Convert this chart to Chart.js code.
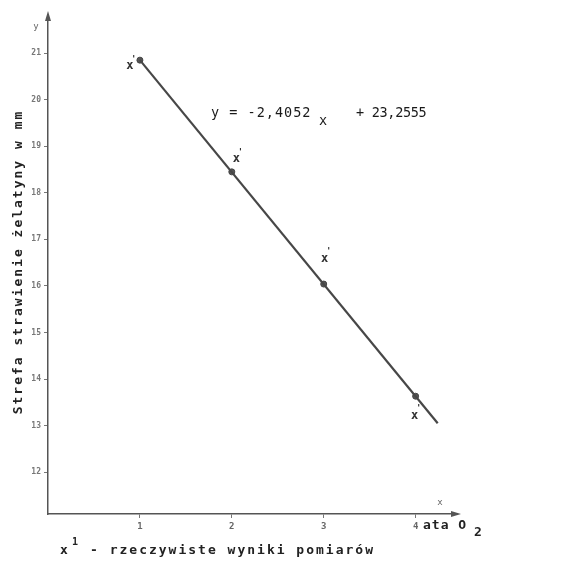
<!DOCTYPE html>
<html>
<head>
<meta charset="utf-8">
<script src="https://cdn.jsdelivr.net/npm/chart.js@4.4.1/dist/chart.umd.min.js"></script>
<style>
  html, body { margin: 0; padding: 0; background: #ffffff; }
  #wrap { width: 566px; height: 562px; }
</style>
</head>
<body>
<div id="wrap"><canvas id="wykres"></canvas></div>
<script>
// ticks
var xTicks = [1, 2, 3, 4];
var yTicks = [12, 13, 14, 15, 16, 17, 18, 19, 20, 21];

// regression line y = -2,4052x + 23,2555 (end points)
var liniaX = [1, 4.24];
var liniaY = [20.85, 13.05];

// dots on the line
var punktyX = [1, 2, 3, 4];
var punktyY = [20.85, 18.45, 16.04, 13.63];

// actual measurements, marked x'
var pomiaryX = [0.89, 2.05, 3.01, 3.99];
var pomiaryY = [20.74, 18.74, 16.6, 13.23];

var fontMono = "'DejaVu Sans Mono', 'Liberation Mono', monospace";

function pary(xs, ys) {
  var out = [];
  for (var i = 0; i < xs.length; i++) {
    out.push({ x: xs[i], y: ys[i] });
  }
  return out;
}

var opisy = {
  id: "opisy",
  afterDatasetsDraw: function (chart) {
    var ctx = chart.ctx;

    // x' markers at the measured points
    var meta = chart.getDatasetMeta(2);
    ctx.save();
    ctx.fillStyle = "#333";
    ctx.textAlign = "center";
    ctx.textBaseline = "middle";
    meta.data.forEach(function (el) {
      ctx.font = "bold 12px " + fontMono;
      ctx.fillText("x", el.x, el.y + 1);
      ctx.font = "bold 9px " + fontMono;
      ctx.fillText("'", el.x + 4, el.y - 6);
    });
    ctx.restore();
  },
  afterDraw: function (chart) {
    var ctx = chart.ctx;
    var area = chart.chartArea;
    ctx.save();

    // arrows on the axes
    ctx.fillStyle = "#555";
    ctx.beginPath();
    ctx.moveTo(area.right + 4, area.bottom);
    ctx.lineTo(area.right - 6, area.bottom - 3);
    ctx.lineTo(area.right - 6, area.bottom + 3);
    ctx.closePath();
    ctx.fill();
    ctx.beginPath();
    ctx.moveTo(area.left, area.top - 4);
    ctx.lineTo(area.left - 3, area.top + 6);
    ctx.lineTo(area.left + 3, area.top + 6);
    ctx.closePath();
    ctx.fill();

    ctx.fillStyle = "#666";
    ctx.font = "9px " + fontMono;
    ctx.textAlign = "center";
    ctx.textBaseline = "middle";
    ctx.fillText("x", area.right - 17, area.bottom - 11);
    ctx.fillText("y", area.left - 12, area.top + 12);

    // y axis title
    ctx.fillStyle = "#222";
    ctx.font = "bold 13px " + fontMono;
    ctx.letterSpacing = "2px";
    ctx.save();
    ctx.translate(19, 262);
    ctx.rotate(-Math.PI / 2);
    ctx.fillText("Strefa strawienie żelatyny w mm", 0, 0);
    ctx.restore();

    // equation
    ctx.fillStyle = "#1a1a1a";
    ctx.textAlign = "left";
    ctx.textBaseline = "alphabetic";
    ctx.font = "13.5px " + fontMono;
    ctx.letterSpacing = "1px";
    ctx.fillText("y = -2,4052", 211, 117);
    ctx.fillText("x", 319, 125);
    ctx.letterSpacing = "-0.3px";
    ctx.fillText("+ 23,2555", 356, 117);

    // unit at the x axis
    ctx.fillStyle = "#222";
    ctx.font = "bold 13px " + fontMono;
    ctx.letterSpacing = "1px";
    ctx.fillText("ata O", 423, 529);
    ctx.fillText("2", 474, 536);

    // note at the bottom
    ctx.letterSpacing = "2px";
    ctx.fillText("x", 60, 554);
    ctx.font = "bold 10px " + fontMono;
    ctx.fillText("1", 72, 545);
    ctx.font = "bold 13px " + fontMono;
    ctx.fillText("- rzeczywiste wyniki pomiarów", 90, 554);

    ctx.restore();
  }
};

var config = {
  type: "scatter",
  data: {
    datasets: [
      {
        label: "linia",
        data: pary(liniaX, liniaY),
        showLine: true,
        borderColor: "#474747",
        borderWidth: 2.2,
        pointRadius: 0
      },
      {
        label: "punkty",
        data: pary(punktyX, punktyY),
        backgroundColor: "#555",
        borderColor: "#444",
        pointRadius: 3
      },
      {
        label: "pomiary",
        data: pary(pomiaryX, pomiaryY),
        pointRadius: 0
      }
    ]
  },
  options: {
    responsive: true,
    maintainAspectRatio: false,
    animation: false,
    layout: {
      padding: { left: 0, top: 15, right: 109, bottom: 0 }
    },
    plugins: {
      legend: { display: false },
      tooltip: { enabled: false }
    },
    scales: {
      x: {
        type: "linear",
        min: 0,
        max: 4.45,
        afterBuildTicks: function (scale) {
          scale.ticks = xTicks.map(function (v) { return { value: v }; });
        },
        afterFit: function (scale) {
          scale.height = 48;
        },
        grid: {
          drawOnChartArea: false,
          drawTicks: true,
          tickLength: 4,
          color: "#777"
        },
        border: { display: true, color: "#555", width: 1.5 },
        ticks: {
          color: "#666",
          padding: 3,
          font: { family: fontMono, size: 9, weight: "bold" }
        }
      },
      y: {
        type: "linear",
        min: 11.1,
        max: 21.82,
        afterBuildTicks: function (scale) {
          scale.ticks = yTicks.map(function (v) { return { value: v }; });
        },
        afterFit: function (scale) {
          scale.width = 48;
        },
        grid: {
          drawOnChartArea: false,
          drawTicks: true,
          tickLength: 4,
          color: "#777"
        },
        border: { display: true, color: "#555", width: 1.5 },
        ticks: {
          color: "#777",
          padding: 3,
          font: { family: fontMono, size: 8, weight: "bold" }
        }
      }
    }
  },
  plugins: [opisy]
};

var wykres = new Chart(document.getElementById("wykres"), config);
</script>
</body>
</html>
